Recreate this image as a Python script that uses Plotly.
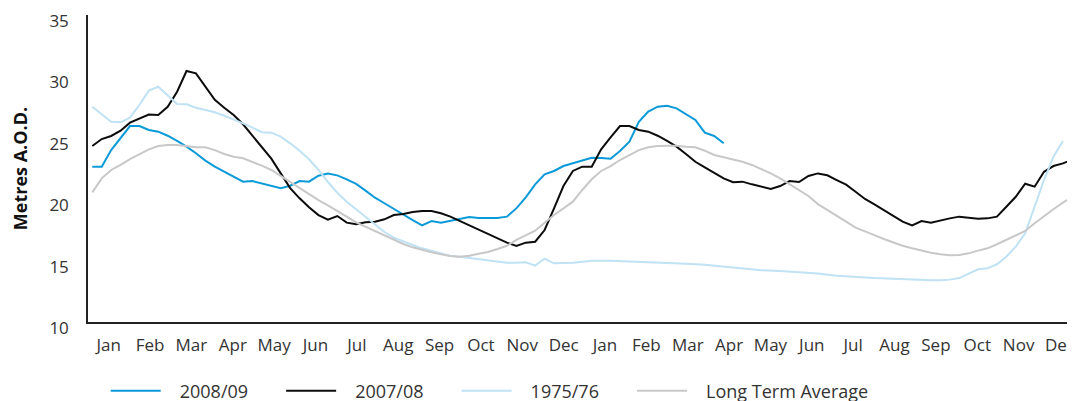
import plotly.graph_objects as go

# ---- data (weekly readings, week index from first week of January, year 1) ----
months = ["Jan", "Feb", "Mar", "Apr", "May", "Jun", "Jul", "Aug", "Sep", "Oct", "Nov", "Dec",
          "Jan", "Feb", "Mar", "Apr", "May", "Jun", "Jul", "Aug", "Sep", "Oct", "Nov", "Dec"]

weeks_2008_09 = list(range(0, 68))
level_2008_09 = [22.65, 22.65, 24.0, 25.0, 25.96, 25.96, 25.64, 25.5, 25.17, 24.74,
                 24.28, 23.74, 23.14, 22.65, 22.24, 21.78, 21.43, 21.48, 21.29, 21.1,
                 20.89, 21.1, 21.48, 21.43, 21.91, 22.1, 21.94, 21.62, 21.24, 20.7,
                 20.12, 19.67, 19.2, 18.71, 18.3, 17.87, 18.22, 18.09, 18.25, 18.41,
                 18.55, 18.47, 18.44, 18.47, 18.58, 19.25, 20.15, 21.21, 22.03, 22.3,
                 22.7, 22.92, 23.19, 23.38, 23.36, 23.3, 23.93, 24.69, 26.3, 27.13,
                 27.53, 27.61, 27.4, 26.94, 26.45, 25.42, 25.15, 24.55]

weeks_2007_08 = list(range(0, 105))
level_2007_08 = [24.33, 24.9, 25.15, 25.58, 26.23, 26.59, 26.9, 26.86, 27.53, 28.75,
                 30.44, 30.25, 29.2, 28.1, 27.45, 26.86, 26.1, 25.15, 24.2, 23.3,
                 22.1, 20.9, 20.07, 19.34, 18.71, 18.33, 18.63, 18.09, 17.96, 18.12,
                 18.17, 18.36, 18.71, 18.8, 18.96, 19.04, 19.04, 18.85, 18.58, 18.22,
                 17.9, 17.55, 17.17, 16.79, 16.46, 16.19, 16.46, 16.54, 17.49, 19.25,
                 21.07, 22.3, 22.65, 22.65, 24.06, 25.04, 25.96, 25.96, 25.64, 25.5,
                 25.17, 24.74, 24.28, 23.68, 23.05, 22.6, 22.16, 21.7, 21.38, 21.43,
                 21.21, 20.99, 20.83, 21.07, 21.48, 21.4, 21.89, 22.1, 21.95, 21.56,
                 21.18, 20.61, 20.02, 19.58, 19.1, 18.61, 18.17, 17.87, 18.22, 18.09,
                 18.28, 18.44, 18.58, 18.47, 18.41, 18.44, 18.58, 19.39, 20.2, 21.26,
                 21.02, 22.23, 22.7, 22.92, 23.22]

weeks_1975_76 = list(range(0, 54)) + [55, 57, 59, 61, 63, 65, 67, 69, 71, 73, 75, 77, 79,
                                      81, 83, 85, 87, 89, 90, 91, 92, 93, 94, 95, 96, 97,
                                      98, 99, 100, 101, 102, 103]
level_1975_76 = [27.53, 26.9, 26.31, 26.26, 26.64, 27.67, 28.84, 29.16, 28.49, 27.75,
                 27.73, 27.45, 27.26, 27.08, 26.8, 26.51, 26.18, 25.83, 25.45, 25.42,
                 25.1, 24.55, 23.95, 23.25, 22.38, 21.4, 20.53, 19.8, 19.2, 18.58,
                 17.96, 17.33, 16.87, 16.54, 16.27, 16.0, 15.78, 15.59, 15.37, 15.32,
                 15.21, 15.1, 15.02, 14.94, 14.83, 14.83, 14.86, 14.59, 15.15, 14.78,
                 14.78, 14.83, 14.91, 14.99,
                 14.99, 14.94, 14.89, 14.8, 14.75, 14.67, 14.53, 14.37, 14.21, 14.15,
                 14.07, 13.94, 13.77, 13.66, 13.58, 13.53, 13.45, 13.4, 13.4, 13.45,
                 13.58, 13.93, 14.29, 14.37, 14.7, 15.32, 16.13, 17.22, 19.39, 21.56,
                 23.46, 24.74]

weeks_lta = list(range(0, 105))
level_lta = [20.56, 21.7, 22.38, 22.79, 23.27, 23.68, 24.06, 24.33, 24.41, 24.41,
             24.33, 24.23, 24.23, 24.0, 23.68, 23.46, 23.33, 23.05, 22.73, 22.38,
             21.89, 21.34, 20.89, 20.42, 19.93, 19.5, 19.07, 18.58, 18.12, 17.76,
             17.41, 17.03, 16.68, 16.35, 16.08, 15.86, 15.68, 15.51, 15.37, 15.32,
             15.4, 15.56, 15.7, 15.94, 16.21, 16.68, 17.03, 17.44, 18.09, 18.71,
             19.25, 19.8, 20.75, 21.62, 22.3, 22.7, 23.19, 23.6, 24.0, 24.23,
             24.33, 24.36, 24.36, 24.28, 24.23, 23.95, 23.6, 23.41, 23.25, 23.05,
             22.79, 22.46, 22.1, 21.7, 21.24, 20.75, 20.26, 19.6, 19.1, 18.66,
             18.17, 17.68, 17.41, 17.08, 16.76, 16.46, 16.21, 16.0, 15.81, 15.64,
             15.51, 15.43, 15.46, 15.59, 15.81, 16.0, 16.33, 16.68, 17.03, 17.41,
             18.04, 18.63, 19.18, 19.72, 20.2]

# ---- geometry (figure pixels; page body adds an 8px offset) ----
W, H = 1075, 401
OFF = 8
PLOT_L, PLOT_R, PLOT_T, PLOT_B = 88 - OFF, 1075, 15 - OFF, 322 - OFF
PX_PER_WEEK = (1072.3 - 92.3) / 104.0
FIRST_PT = 92.3 - OFF
X0 = (PLOT_L - FIRST_PT) / PX_PER_WEEK
X1 = (PLOT_R - FIRST_PT) / PX_PER_WEEK
MONTH_PX = 41.36
tickvals = [(108.7 - OFF + MONTH_PX * i - FIRST_PT) / PX_PER_WEEK for i in range(len(months))]

FONT = "Open Sans, Noto Sans, sans-serif"
LEAD = "\u00a0\u00a0\u00a0"
TRAIL = "\u00a0" * 6

fig = go.Figure()
series = [
    ("2008/09", weeks_2008_09, level_2008_09, "#0a9ad9"),
    ("2007/08", weeks_2007_08, level_2007_08, "#0c0c0c"),
    ("1975/76", weeks_1975_76, level_1975_76, "#bfe2f4"),
    ("Long Term Average", weeks_lta, level_lta, "#c8c8c8"),
]
for name, xs, ys, col in series:
    fig.add_trace(go.Scatter(x=xs, y=ys, name=LEAD + name + TRAIL, mode="lines",
                             line=dict(color=col, width=2), hoverinfo="skip"))

legend_x_px = 105.7 - OFF
legend_y_px = 391 - OFF

fig.update_layout(
    width=W, height=H,
    margin=dict(l=PLOT_L, r=W - PLOT_R, t=PLOT_T, b=H - PLOT_B, autoexpand=False),
    paper_bgcolor="white", plot_bgcolor="white",
    font=dict(family=FONT, size=17, color="#333333"),
    showlegend=True,
    legend=dict(orientation="h",
                x=(legend_x_px - PLOT_L) / (PLOT_R - PLOT_L), xanchor="left",
                y=(PLOT_B - legend_y_px) / (PLOT_B - PLOT_T), yanchor="middle",
                font=dict(family=FONT, size=18, color="#333333"),
                itemwidth=50, bgcolor="rgba(0,0,0,0)"),
    xaxis=dict(range=[X0, X1], tickmode="array", tickvals=tickvals, ticktext=months,
               showgrid=False, zeroline=False, showline=True, linecolor="#222222",
               linewidth=1.5, ticks="", ticklabelstandoff=7, automargin=False,
               tickfont=dict(size=17, color="#333333")),
    yaxis=dict(range=[10, 35], tickmode="array", tickvals=[10, 15, 20, 25, 30, 35],
               showgrid=False, zeroline=False, showline=True, linecolor="#222222",
               linewidth=1.5, ticks="outside", ticklen=14, tickcolor="rgba(0,0,0,0)",
               ticklabelshift=6, ticklabeloverflow="allow", automargin=False,
               tickfont=dict(size=17, color="#333333"),
               title=dict(text="<b>Metres A.O.D.</b>", standoff=22,
                          font=dict(family=FONT, size=18, color="#111111"))),
)

fig.write_html("out.html")
